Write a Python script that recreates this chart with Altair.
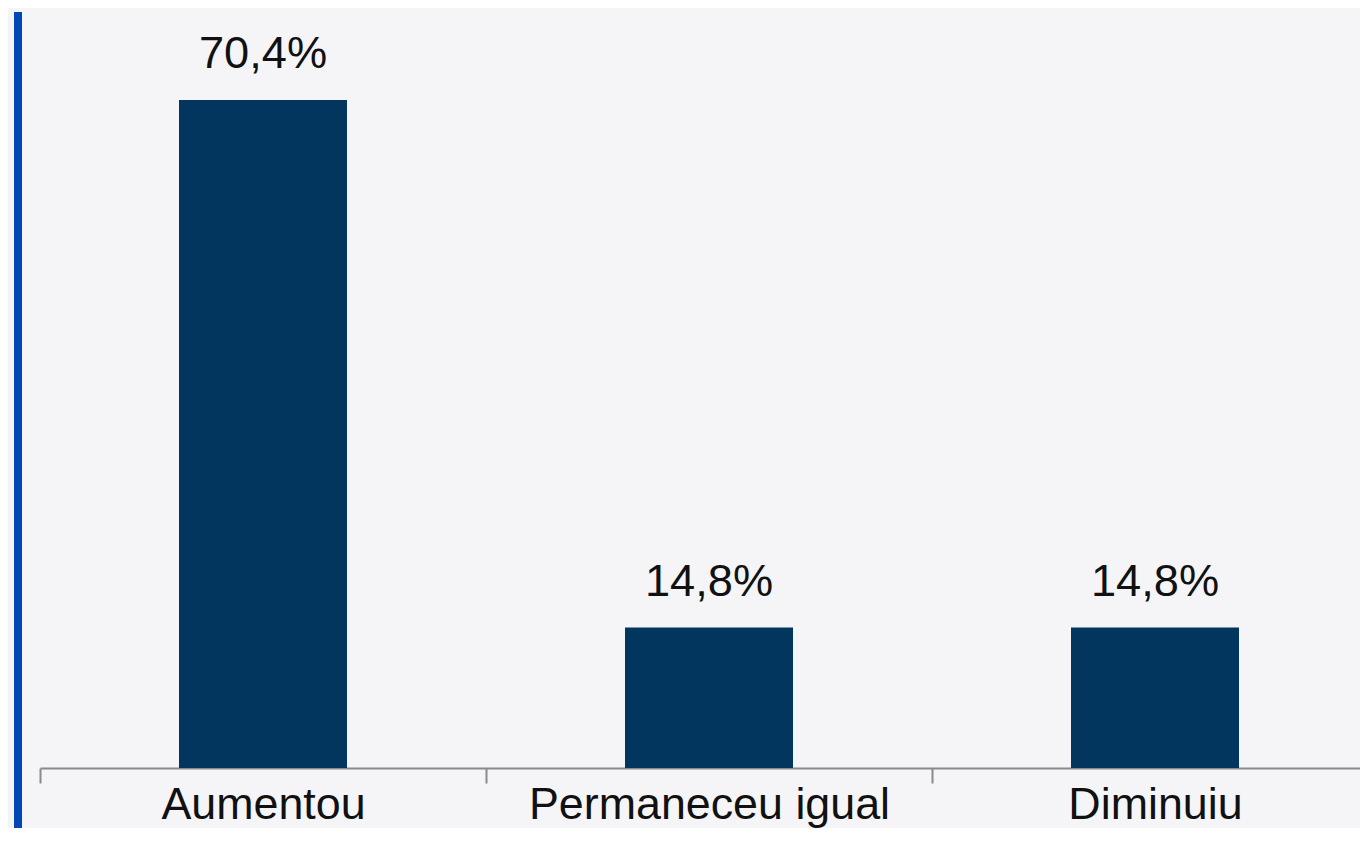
import altair as alt
import pandas as pd

categories = ["Aumentou", "Permaneceu igual", "Diminuiu"]
values = [70.4, 14.8, 14.8]

df = pd.DataFrame({
    "categoria": categories,
    "valor": values,
    "rotulo": [f"{v:.1f}".replace(".", ",") + "%" for v in values],
})

FONT = "Liberation Sans"

xenc = alt.X(
    "categoria:N",
    sort=None,
    scale=alt.Scale(paddingInner=0, paddingOuter=0),
    axis=alt.Axis(
        title=None,
        labelAngle=0,
        labelFont=FONT,
        labelFontSize=44.8,
        labelColor="#111111",
        labelBaseline="alphabetic",
        labelPadding=35,
        labelLimit=0,
        tickBand="extent",
        tickSize=15,
        tickWidth=2,
        tickColor="#8a8a8a",
        domainColor="#8a8a8a",
        domainWidth=2,
        grid=False,
    ),
)
yenc = alt.Y("valor:Q", scale=alt.Scale(domain=[0, 80.09]), axis=None)

base = alt.Chart(df)

bars = base.mark_bar(width=168, color="#02365f").encode(x=xenc, y=yenc)

labels = base.mark_text(
    font=FONT, fontSize=45.2, color="#111111", baseline="alphabetic", dy=-31.5
).encode(x=xenc, y=yenc, text="rotulo:N")

edge = alt.Chart(pd.DataFrame({"k": [0]})).mark_rule(
    color="#0048b4", strokeWidth=8
).encode(x=alt.value(-22), y=alt.value(4), y2=alt.value(900))

chart = alt.layer(bars, labels, edge).properties(
    width=1338,
    height=760,
    background="#f5f5f8",
    autosize=alt.AutoSizeParams(type="none"),
    padding={"left": 32, "top": 0, "right": -18, "bottom": 60},
).configure_view(stroke=None)

chart.save("out.html", embed_options={"renderer": "svg", "actions": False})
